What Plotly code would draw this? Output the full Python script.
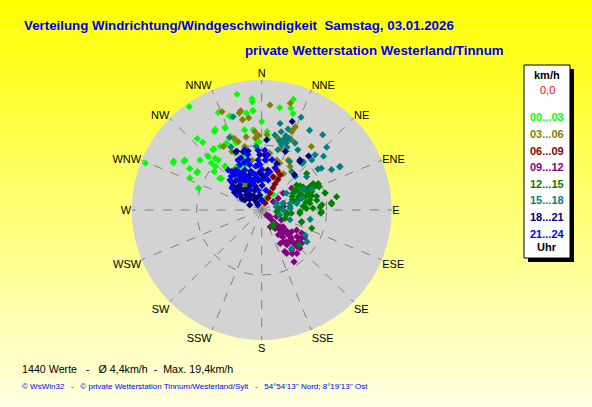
import plotly.graph_objects as go

W, H = 592, 407
FONT = 'Liberation Sans, Arial, sans-serif'

# compass rose
compass = ['N', 'NNE', 'NE', 'ENE', 'E', 'ESE', 'SE', 'SSE',
           'S', 'SSW', 'SW', 'WSW', 'W', 'WNW', 'NW', 'NNW']
compass_deg = [i * 22.5 for i in range(16)]

# time slots (legend) and their colours
hours = ['00...03', '03...06', '06...09', '09...12',
         '12...15', '15...18', '18...21', '21...24']
colors = ['#00FF00', '#808000', '#800000', '#800080',
          '#008000', '#008080', '#000080', '#0000FF']

# wind direction (deg) / speed (km/h)
dir_00_03 = [325, 292, 348, 355, 355, 336, 341, 355, 10, 16, 16, 18, 330, 329, 318,
             336, 348, 354, 0, 4, 337, 332, 339, 327, 321, 315, 309, 299, 303, 294,
             301, 289, 319, 320, 307, 321, 341, 333, 356, 313, 313, 20, 35, 5, 358,
             355, 351, 342, 336, 319, 298, 302, 300, 300, 315, 318, 309, 308, 320,
             322, 332, 335, 330, 340]
spd_00_03 = [19.4, 19.3, 18.2, 17.2, 16.7, 16.4, 15.3, 15.3, 16.0, 17.7, 16.3, 15.6,
             14.3, 14.1, 14.8, 13.8, 12.6, 12.4, 13.6, 12.1, 12.3, 11.6, 11.1, 11.7,
             11.9, 11.6, 12.2, 15.5, 14.1, 12.1, 11.5, 10.3, 10.2, 8.8, 8.1, 6.6, 8.7,
             7.5, 10.3, 10.6, 9.8, 2.0, 3.0, 11.0, 10.5,
             15.4, 15.1, 15.1, 13.9, 13.8, 15.4, 14.1, 12.8, 11.5, 11.8, 10.7, 9.4,
             7.9, 8.7, 12.0, 11.6, 9.6, 7.7, 7.4]

dir_03_06 = [4.5, 15, 338, 347, 348, 352, 348, 357.5, 4, 13, 21, 22, 23, 38, 329,
             333, 341, 325, 312, 327, 8, 17, 28, 33, 31, 6, 17, 349, 19, 2, 354,
             348, 348, 339, 345, 355, 355, 328, 333, 21, 21]
spd_03_06 = [16.2, 17.0, 16.3, 15.3, 14.2, 14.3, 11.5, 11.5, 11.6, 11.3, 13.1, 13.8,
             11.7, 12.4, 11.4, 10.1, 11.1, 7.5, 3.4, 4.3, 8.8, 8.0, 8.7, 8.0, 6.5,
             7.7, 9.9, 7.8, 5.4, 6.2, 4.6,
             15.6, 14.2, 11.8, 10.1, 12.1, 11.1, 4.8, 3.4, 12.9, 7.7]

dir_06_09 = [25, 28, 26, 27, 27, 28, 19, 2, 326, 28, 22]
spd_06_09 = [1.2, 2.1, 2.9, 3.8, 4.5, 5.3, 5.4, 1.5, 1.9, 6.1, 6.5]

dir_09_12 = [135, 135, 135, 135, 132, 133, 133, 126, 120, 120, 122, 133, 146, 151,
             144, 136, 136, 143, 151, 141, 148, 144, 146, 153, 125, 131, 114, 117,
             54, 52, 55, 54, 81, 129, 128, 127, 142, 139, 150, 135, 130,
             138, 140, 134, 145, 130, 142]
spd_09_12 = [1.1, 1.8, 2.5, 3.3, 3.8, 4.5, 5.3, 5.7, 6.2, 7.1, 7.8, 6.0, 5.9, 5.9,
             6.6, 7.1, 7.8, 7.7, 7.3, 8.6, 9.4, 3.5, 4.6, 2.9, 7.5, 7.4, 2.5, 3.4,
             5.7, 4.2, 3.1, 2.2, 3.4, 1.6, 4.2, 6.8, 6.2, 4.7, 7.7, 8.3, 8.0,
             4.0, 6.5, 6.3, 8.2, 5.0, 5.3]

dir_12_15 = [65, 66, 70, 72, 73, 66.5, 60, 62, 61, 68, 64, 63, 75, 80, 85, 85, 93,
             88, 107, 96, 83, 76, 73, 85, 101, 92.5, 66, 78, 80, 85, 75, 96, 133,
             110, 54.5, 140, 146,
             63, 76, 82, 72, 79, 58, 97, 95, 87, 75, 84, 92, 110, 106, 51,
             70, 74, 68, 80, 88, 65, 58, 71]
spd_12_15 = [9.6, 9.0, 8.2, 7.5, 7.0, 6.4, 6.2, 5.5, 7.3, 7.5, 8.3, 8.9, 10.1, 11.7,
             10.8, 9.3, 9.1, 7.9, 6.4, 4.6, 4.4, 5.3, 3.5, 2.8, 3.9, 5.9, 5.1, 7.6,
             8.6, 6.4, 5.8, 2.3, 7.9, 3.8, 6.6, 2.8, 3.1,
             8.9, 8.7, 7.5, 6.7, 5.5, 5.8, 3.9, 5.9, 9.0, 10.1, 10.8, 9.2, 8.2, 6.4, 8.9,
             6.0, 8.0, 9.5, 6.9, 6.9, 7.8, 7.0, 5.0]

dir_15_18 = [12, 18, 23, 31, 39, 46, 44, 49, 61, 54, 41, 26.5, 31, 17, 14, 10, 30,
             17, 20, 15,
             55, 60, 61, 45, 53.5, 45, 41, 38,
             73, 87, 79, 74, 56, 66, 105, 109, 120, 142, 125, 101, 77, 64, 68, 90, 77,
             336, 334, 343, 355,
             16, 19, 22, 18, 14, 21]
spd_15_18 = [13.6, 13.1, 15.5, 14.3, 14.9, 13.9, 11.8, 12.6, 13.8, 10.7, 9.8, 11.5,
             10.8, 10.5, 12.4, 11.7, 8.6, 11.3, 11.0, 9.6,
             11.2, 12.4, 13.7, 10.9, 8.6, 7.3, 9.5, 7.5,
             3.4, 4.4, 5.5, 6.4, 4.6, 2.5, 2.9, 4.6, 7.7, 7.5, 8.5, 7.6, 4.5, 7.1, 8.3,
             3.3, 2.3,
             12.2, 10.8, 15.0, 9.8,
             10.8, 11.6, 10.4, 12.0, 11.0, 11.8]

dir_18_21 = [19, 4, 337, 342.5, 22, 37.5, 18, 315, 315, 41, 38, 43, 3, 358, 336,
             342.5, 347,
             319, 320, 322, 326, 323, 331, 335, 341, 353, 305, 301, 293, 307, 341.5,
             353, 1, 0.5, 328, 313, 327, 6, 9, 355,
             316, 324, 330, 338, 345, 310, 300, 318, 334, 348, 312, 326,
             333, 318, 303, 344, 357, 310, 328, 336]
spd_18_21 = [14.4, 10.8, 9.8, 9.4, 9.7, 9.7, 7.5, 3.3, 5.1, 11.0, 9.5, 7.4, 8.5, 8.5,
             9.8, 9.4, 9.3,
             5.1, 4.0, 2.9, 1.9, 1.0, 5.3, 4.2, 3.2, 2.3, 4.1, 3.0, 2.0, 5.1, 5.7,
             4.6, 3.8, 5.4, 6.3, 6.3, 7.3, 4.9, 6.2, 6.9,
             4.5, 3.5, 2.5, 4.8, 3.8, 5.8, 3.5, 6.0, 5.8, 5.0, 2.5, 1.4,
             6.5, 3.0, 5.0, 6.2, 5.8, 4.4, 3.8, 2.0]

dir_21_24 = [337, 345, 334, 323, 322, 334.5, 345.7, 347, 0, 0, 12, 12, 356, 4, 11.6,
             344.7, 334.6, 320, 306.5, 301, 330, 349.5, 12, 17.6, 3, 356.5, 344,
             313.4, 0, 340, 350, 328, 6, 318, 352, 338,
             342, 335, 327, 352, 358, 8, 346, 330, 322, 340]
spd_21_24 = [6.7, 7.2, 7.7, 6.8, 5.9, 6.0, 6.0, 4.7, 4.6, 6.2, 4.7, 6.0, 7.7, 7.7,
             7.9, 8.0, 8.5, 8.0, 5.7, 4.4, 3.6, 3.1, 3.1, 6.8, 9.2, 9.2, 9.6, 6.7,
             1.5, 5.2, 5.5, 7.2, 8.5, 7.0, 6.8, 8.6,
             4.2, 5.0, 5.5, 5.0, 7.0, 5.5, 8.8, 6.5, 7.5, 7.8]

groups = [(dir_00_03, spd_00_03), (dir_03_06, spd_03_06), (dir_06_09, spd_06_09),
          (dir_09_12, spd_09_12), (dir_12_15, spd_12_15), (dir_15_18, spd_15_18),
          (dir_18_21, spd_18_21), (dir_21_24, spd_21_24)]

title1 = 'Verteilung Windrichtung/Windgeschwindigkeit\u00a0\u00a0Samstag, 03.01.2026'
title2 = 'private Wetterstation Westerland/Tinnum'
stats = '1440 Werte\u00a0\u00a0\u00a0-\u00a0\u00a0\u00a0Ø 4,4km/h\u00a0\u00a0-\u00a0\u00a0Max. 19,4km/h'
footer = ('© WsWin32\u00a0\u00a0\u00a0-\u00a0\u00a0\u00a0© private Wetterstation '
          'Tinnum/Westerland/Sylt\u00a0\u00a0\u00a0-\u00a0\u00a0\u00a054°54\'13\'\' Nord; 8°19\'13\'\' Ost')

fig = go.Figure()
for (d, s), c, h in zip(groups, colors, hours):
    fig.add_trace(go.Scatterpolar(
        theta=d, r=s, mode='markers', name=h,
        marker=dict(symbol='diamond', size=5.5, color=c, line=dict(width=0)),
        hoverinfo='skip'))


def px(x):
    return x / W


def py(y):
    return 1 - y / H


# yellow gradient background
shapes = []
n_bands = 40
for i in range(n_bands):
    t = i / (n_bands - 1)
    b = int(0 + t * 228)
    shapes.append(dict(type='rect', xref='paper', yref='paper', layer='below',
                       x0=0, x1=1, y0=1 - (i + 1) / n_bands, y1=1 - i / n_bands,
                       fillcolor=f'rgb(255,255,{b})', line=dict(width=0)))

# legend box with shadow
shapes.append(dict(type='rect', xref='paper', yref='paper', layer='above',
                   x0=px(528), x1=px(574), y0=py(262), y1=py(69),
                   fillcolor='black', line=dict(width=0)))
shapes.append(dict(type='rect', xref='paper', yref='paper', layer='above',
                   x0=px(524), x1=px(570), y0=py(258), y1=py(65),
                   fillcolor='white', line=dict(color='black', width=1)))

ann = []
ann.append(dict(x=px(22), y=py(25.5), text=title1, xanchor='left', yanchor='middle',
                font=dict(family=FONT, size=13.3, color='#0000EE', weight='bold')))
ann.append(dict(x=px(243), y=py(50), text=title2, xanchor='left', yanchor='middle',
                font=dict(family=FONT, size=13.3, color='#0000EE', weight='bold')))
ann.append(dict(x=px(20), y=py(369), text=stats, xanchor='left', yanchor='middle',
                font=dict(family=FONT, size=10.7, color='black')))
ann.append(dict(x=px(20), y=py(386), text=footer, xanchor='left', yanchor='middle',
                font=dict(family=FONT, size=8, color='#0000EE')))

lx = px(547)
ann.append(dict(x=lx, y=py(75), text='km/h', xanchor='center', yanchor='middle',
                font=dict(family=FONT, size=11, color='black', weight='bold')))
ann.append(dict(x=lx, y=py(90), text='0,0', xanchor='center', yanchor='middle',
                font=dict(family=FONT, size=11, color='red')))
for i, (h, c) in enumerate(zip(hours, colors)):
    ann.append(dict(x=lx, y=py(117.3 + i * 16.6), text=h, xanchor='center',
                    yanchor='middle',
                    font=dict(family=FONT, size=11, color=c, weight='bold')))
ann.append(dict(x=lx, y=py(247), text='Uhr', xanchor='center', yanchor='middle',
                font=dict(family=FONT, size=11, color='black', weight='bold')))
for a in ann:
    a.update(xref='paper', yref='paper', showarrow=False)

fig.update_layout(
    width=W, height=H,
    margin=dict(l=0, r=0, t=0, b=0),
    paper_bgcolor='#FFFF80',
    showlegend=False,
    shapes=shapes,
    annotations=ann,
    polar=dict(
        domain=dict(x=[px(131.7), px(391.7)], y=[py(340), py(80)]),
        bgcolor='#D3D3D3',
        radialaxis=dict(range=[0, 20], tickvals=[10], showticklabels=False,
                        ticks='', showline=False, gridcolor='#808080',
                        griddash='dash', gridwidth=1),
        angularaxis=dict(direction='clockwise', rotation=90,
                         tickvals=compass_deg, ticktext=compass, ticks='',
                         showline=False, gridcolor='#808080', griddash='dash',
                         gridwidth=1,
                         tickfont=dict(family=FONT, size=11, color='black')),
    ),
)

fig.write_html('out.html', config=dict(displayModeBar=False),
               post_script="document.body.style.margin='0';"
                           "document.body.style.overflow='hidden';")
